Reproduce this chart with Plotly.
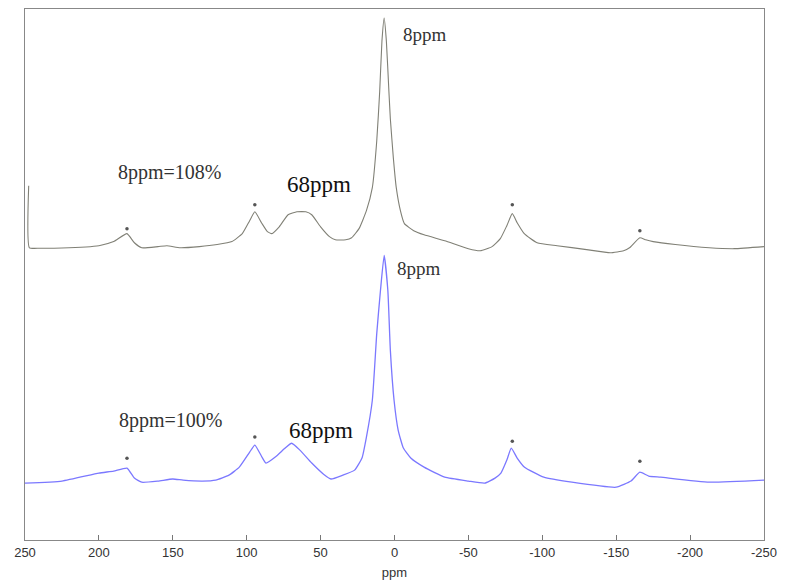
import plotly.graph_objects as go

# ---- data (ppm, relative intensity) ----
top_ppm = [247.5, 247, 240, 225, 200, 190, 181, 176, 171, 160, 154, 145, 132, 120, 110, 103, 98, 94.5,
           90, 86, 83, 78, 72, 66, 60, 56, 50, 44, 40, 33, 29, 24, 19, 15, 12, 10, 8.5, 7, 5.5, 3.8,
           2.8, 0.8, -1.2, -4, -6.7, -13, -20, -34, -50, -58, -66, -71.6, -76, -79.7, -83, -87.8,
           -96.5, -110, -130, -146, -155, -159, -166, -170, -175, -190, -213, -230, -250]
top_int = [27.6, 0.4, 0.2, 0.3, 1.3, 3.1, 6.6, 2.6, 0.4, 0.9, 1.3, 0.4, 0.9, 1.8, 3.1, 6.6, 12.3, 16.2,
           11.4, 7.5, 6.6, 9.6, 14.9, 16.2, 16.2, 14.9, 9.6, 5.3, 3.9, 3.9, 4.8, 8.8, 16.7, 26.8, 47.4,
           69.3, 91.2, 101.3, 91.2, 69.3, 57, 40, 26.8, 16.7, 11.0, 7.9, 6.1, 3.5, 0.0, -0.9, 0.9, 4.4,
           10.1, 15.4, 11.4, 6.6, 2.6, 1.3, -0.4, -1.8, -0.9, 0.4, 4.8, 3.9, 3.1, 1.8, 0.4, 0.0, 0.9]

bot_ppm = [250, 225, 200, 190, 181, 176, 171, 160, 150, 143, 130, 121, 112, 105, 98, 94.5, 90, 87, 80,
           74, 69.6, 64, 56, 48, 43, 35, 27, 22, 19, 15, 12, 9.5, 7, 4.5, 2.8, 0.3, -2.5, -6, -11, -20,
           -34, -50, -61, -68, -72, -76, -79, -83, -88, -101, -120, -150, -160, -166, -172, -180,
           -213, -250]
bot_int = [0.0, 0.9, 4.4, 5.3, 6.6, 2.2, 0.4, 0.9, 1.8, 1.3, 0.9, 1.3, 3.5, 7.0, 13.6, 16.7, 11.8,
           8.8, 11.8, 15.4, 17.5, 14.5, 8.8, 3.9, 1.8, 3.5, 5.7, 11.0, 20.2, 36.4, 65.8, 84.6, 100.0,
           84.6, 58.3, 36.4, 23.2, 15.4, 11.0, 7.0, 2.6, 0.9, 0.0, 2.2, 4.4, 10.1, 15.4, 11.0, 7.0,
           2.6, 0.4, -1.8, 0.9, 4.8, 3.1, 2.6, 0.4, 1.3]

top_offset = 103
sideband_ppm = [181, 94.5, -79.7, -166]
top_star_int = [8.8, 19.3, 19.3, 7.9]
bot_star_int = [10.9, 20.2, 18.4, 9.6]

tick_vals = [250, 200, 150, 100, 50, 0, -50, -100, -150, -200, -250]
tick_text = ["250", "200", "150", "100", "50", "0", "-50", "-100", "-150", "-200", "-250"]

fig = go.Figure()
fig.add_trace(go.Scatter(x=top_ppm, y=[v + top_offset for v in top_int], mode="lines",
                         line=dict(color="#808076", width=1.1, shape="spline", smoothing=0.45),
                         showlegend=False))
fig.add_trace(go.Scatter(x=bot_ppm, y=bot_int, mode="lines",
                         line=dict(color="#7b78ff", width=1.3, shape="spline", smoothing=0.45),
                         showlegend=False))
fig.add_trace(go.Scatter(x=sideband_ppm + sideband_ppm,
                         y=[v + top_offset for v in top_star_int] + bot_star_int,
                         mode="markers",
                         marker=dict(symbol="circle", size=3.5, color="#555555"),
                         showlegend=False))

serif = "Liberation Serif, Times New Roman, serif"
anns = [
    dict(x=-4.5, y=top_offset + 94, text="8ppm", size=19, color="#333333", xanchor="left"),
    dict(x=-0.5, y=94.5, text="8ppm", size=19, color="#333333", xanchor="left"),
    dict(x=152, y=top_offset + 33.5, text="8ppm=108%", size=20, color="#333333", xanchor="center"),
    dict(x=151, y=27.5, text="8ppm=100%", size=20, color="#333333", xanchor="center"),
    dict(x=51, y=top_offset + 28, text="68ppm", size=23, color="#111111", xanchor="center"),
    dict(x=50, y=23, text="68ppm", size=23, color="#111111", xanchor="center"),
]
for a in anns:
    fig.add_annotation(x=a["x"], y=a["y"], text=a["text"], showarrow=False,
                       xanchor=a["xanchor"], yanchor="middle",
                       font=dict(family=serif, size=a["size"], color=a["color"]))

fig.update_xaxes(range=[250, -250], tickvals=tick_vals, ticktext=tick_text, ticks="inside", ticklen=5,
                 tickcolor="#777777", showline=True, linecolor="#888888", linewidth=1,
                 mirror=True, showgrid=False, zeroline=False,
                 tickfont=dict(family="Liberation Sans, Arial, sans-serif", size=13, color="#333333"),
                 title=dict(text="ppm", standoff=9,
                            font=dict(family="Liberation Sans, Arial, sans-serif", size=13, color="#333333")))
fig.update_yaxes(range=[-25, 208.3], showticklabels=False, ticks="", showline=True,
                 linecolor="#888888", linewidth=1, mirror=True, showgrid=False, zeroline=False)
fig.update_layout(width=785, height=587, margin=dict(l=25, r=17, t=8, b=47),
                  plot_bgcolor="white", paper_bgcolor="white")
fig.write_html("out.html")
